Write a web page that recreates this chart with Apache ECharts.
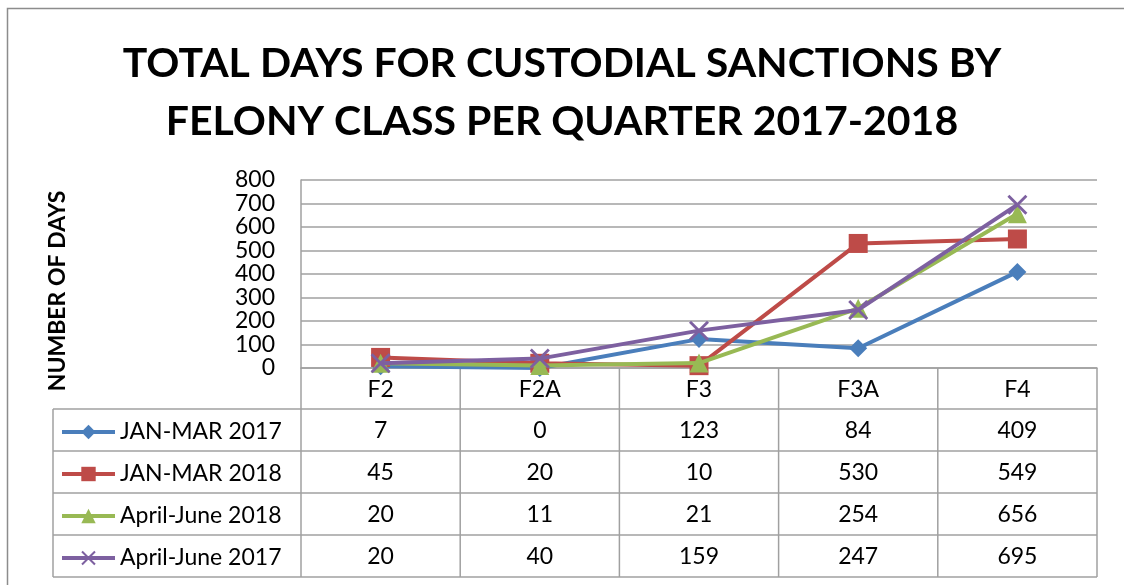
<!DOCTYPE html>
<html>
<head>
<meta charset="utf-8">
<script src="https://cdn.jsdelivr.net/npm/echarts@6/dist/echarts.min.js"></script>
<style>html,body{margin:0;padding:0;background:#fff;}#c{width:1124px;height:585px;}</style>
</head>
<body>
<div id="c"></div>
<script>
const titleText = 'TOTAL DAYS FOR CUSTODIAL SANCTIONS BY\nFELONY CLASS PER QUARTER 2017-2018';
const yAxisName = 'NUMBER OF DAYS';
const categories = ['F2', 'F2A', 'F3', 'F3A', 'F4'];
const seriesNames = ['JAN-MAR 2017', 'JAN-MAR 2018', 'April-June 2018', 'April-June 2017'];
const janMar2017 = [7, 0, 123, 84, 409];
const janMar2018 = [45, 20, 10, 530, 549];
const aprJun2018 = [20, 11, 21, 254, 656];
const aprJun2017 = [20, 40, 159, 247, 695];
const seriesValues = [janMar2017, janMar2018, aprJun2018, aprJun2017];
const colors = ['#4A7EBB', '#BE4B48', '#98B954', '#7D60A0'];
const xSymbol = 'path://M0,1 L1,0 L5,4 L9,0 L10,1 L6,5 L10,9 L9,10 L5,6 L1,10 L0,9 L4,5 Z';
const symbols = ['diamond', 'rect', 'triangle', xSymbol];
const symbolSizes = [18, 19, 19, 20];

const FONT = 'Lato';
const GRID = {left: 301, right: 27, top: 180, height: 188};
const CAT_ROW_H = 41, ROW_H = 42, TABLE_LEFT = 53;
const lineCol = '#A0A0A0';

const chart = echarts.init(document.getElementById('c'), null, {renderer: 'canvas'});
const option = {
  backgroundColor: '#fff',
  animation: false,
  textStyle: {fontFamily: FONT},
  title: {
    text: titleText, left: 'center', top: 30,
    textStyle: {fontFamily: FONT, fontWeight: 'bold', fontSize: 41, lineHeight: 58, color: '#000'}
  },
  legend: {
    orient: 'vertical', left: 60, top: GRID.top + GRID.height + CAT_ROW_H + 11,
    padding: 0,
    itemWidth: 53, itemHeight: 18, itemGap: 18,
    data: seriesNames,
    lineStyle: {width: 4},
    textStyle: {fontFamily: FONT, fontSize: 23, color: '#000', lineHeight: 24}
  },
  grid: GRID,
  xAxis: {
    type: 'category', data: categories, boundaryGap: true,
    axisLine: {show: true, lineStyle: {color: lineCol, width: 1.5}},
    axisTick: {show: false},
    axisLabel: {fontFamily: FONT, fontSize: 23, color: '#000', margin: 10}
  },
  yAxis: {
    type: 'value', min: 0, max: 800, interval: 100,
    name: yAxisName, nameLocation: 'middle', nameRotate: 90, nameGap: 232,
    nameTextStyle: {fontFamily: FONT, fontWeight: 'bold', fontSize: 23, color: '#000', padding: [0, 34, 0, 0]},
    axisLine: {show: true, lineStyle: {color: lineCol, width: 1.5}},
    axisTick: {show: false},
    splitLine: {lineStyle: {color: lineCol, width: 1.5}},
    axisLabel: {fontFamily: FONT, fontSize: 23, color: '#000', margin: 26}
  },
  series: seriesNames.map((n, i) => ({
    name: n, type: 'line', data: seriesValues[i],
    symbol: symbols[i], symbolSize: symbolSizes[i],
    lineStyle: {color: colors[i], width: 4},
    itemStyle: {color: colors[i]},
    z: 2 + i
  }))
};
chart.setOption(option);

// data table drawn from the arrays, aligned to the category axis
const p0 = chart.convertToPixel({xAxisIndex: 0}, 0);
const p1 = chart.convertToPixel({xAxisIndex: 0}, 1);
const band = p1 - p0;
const axisY = chart.convertToPixel({yAxisIndex: 0}, 0);
const tableTop = axisY + CAT_ROW_H;
const tableBottom = tableTop + ROW_H * seriesNames.length;
const leftX = p0 - band / 2;
const rightX = chart.convertToPixel({xAxisIndex: 0}, categories.length - 1) + band / 2;
const g = [];
const ls = {stroke: lineCol, lineWidth: 1.5};
// outer chart border
g.push({type: 'rect', shape: {x: 7.5, y: 8.5, width: 1300, height: 800}, style: {fill: null, stroke: '#8C8C8C', lineWidth: 1.5}, silent: true});
for (let r = 0; r <= seriesNames.length; r++) {
  const y = tableTop + r * ROW_H;
  g.push({type: 'line', shape: {x1: TABLE_LEFT, y1: y, x2: rightX, y2: y}, style: ls, silent: true});
}
g.push({type: 'line', shape: {x1: TABLE_LEFT, y1: tableTop, x2: TABLE_LEFT, y2: tableBottom}, style: ls, silent: true});
g.push({type: 'line', shape: {x1: leftX, y1: axisY, x2: leftX, y2: tableBottom}, style: ls, silent: true});
for (let c = 1; c <= categories.length; c++) {
  const x = leftX + c * band;
  g.push({type: 'line', shape: {x1: x, y1: axisY, x2: x, y2: tableBottom}, style: ls, silent: true});
}
seriesValues.forEach((vals, r) => {
  vals.forEach((v, c) => {
    const x = chart.convertToPixel({xAxisIndex: 0}, c);
    g.push({type: 'text', x: x, y: tableTop + r * ROW_H + ROW_H / 2 + 1, silent: true,
      style: {text: String(v), fontFamily: FONT, fontSize: 23, fill: '#000', align: 'center', verticalAlign: 'middle'}});
  });
});
chart.setOption({graphic: {elements: g}});
</script>
</body>
</html>
